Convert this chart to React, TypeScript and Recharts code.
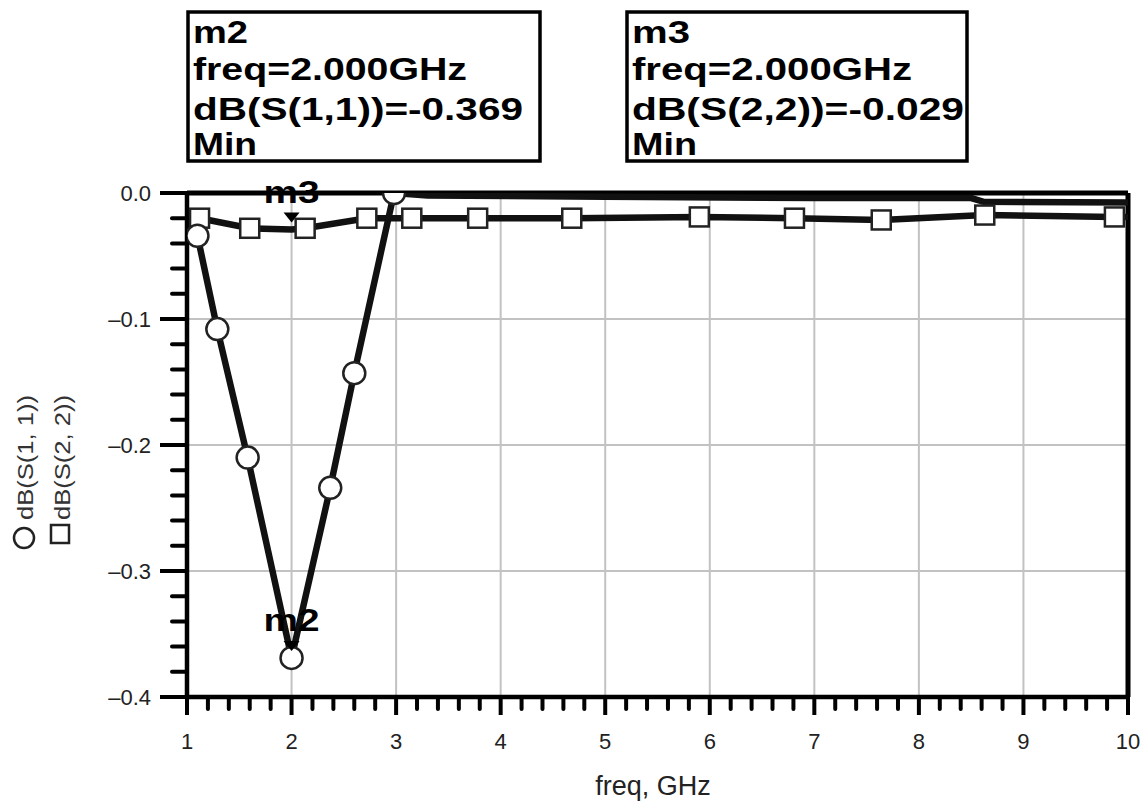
import React from 'react';
import { ComposedChart, Line, XAxis, YAxis, ReferenceLine, ReferenceDot } from 'recharts';

// ---- data ----
const s11Freq = [1.1, 1.29, 1.58, 2.0, 2.37, 2.6, 2.98, 3.3, 5.0, 7.0, 8.5, 8.62, 10.0];
const s11Db = [-0.034, -0.108, -0.21, -0.369, -0.234, -0.143, 0.0, -0.002, -0.003, -0.004, -0.004, -0.007, -0.0075];
const s11MarkFreq = [1.1, 1.29, 1.58, 2.0, 2.37, 2.6, 2.98];
const s11MarkDb = [-0.034, -0.108, -0.21, -0.369, -0.234, -0.143, 0.0];

const s22Freq = [1.12, 1.6, 2.0, 2.13, 2.72, 3.15, 3.78, 4.68, 5.9, 6.81, 7.64, 8.63, 9.87, 10.0];
const s22Db = [-0.02, -0.028, -0.029, -0.028, -0.02, -0.02, -0.02, -0.02, -0.019, -0.02, -0.0214, -0.0175, -0.019, -0.019];
const s22MarkFreq = [1.12, 1.6, 2.13, 2.72, 3.15, 3.78, 4.68, 5.9, 6.81, 7.64, 8.63, 9.87];
const s22MarkDb = [-0.02, -0.028, -0.028, -0.02, -0.02, -0.02, -0.02, -0.019, -0.02, -0.0214, -0.0175, -0.019];

const xGridTicks = [2, 3, 4, 5, 6, 7, 8, 9];
const yMajorTicks = [0, -0.1, -0.2, -0.3, -0.4];
const yMajorLabels = ['0.0', '\u20130.1', '\u20130.2', '\u20130.3', '\u20130.4'];
const yGridTicks = [-0.1, -0.2, -0.3];

const markers = [
  { name: 'm2', freq: 2.0, value: -0.369 },
  { name: 'm3', freq: 2.0, value: -0.029 },
];
const boxM2Lines = ['m2', 'freq=2.000GHz', 'dB(S(1,1))=-0.369', 'Min'];
const boxM3Lines = ['m3', 'freq=2.000GHz', 'dB(S(2,2))=-0.029', 'Min'];
const legendLabels = ['dB(S(1, 1))', 'dB(S(2, 2))'];
const xAxisTitle = 'freq, GHz';

// minor tick positions
const xTicks: number[] = [];
for (let i = 0; i <= 45; i++) xTicks.push(Math.round((1 + i * 0.2) * 10) / 10);
const yTicks: number[] = [];
for (let i = 0; i <= 20; i++) yTicks.push(Math.round((-0.4 + i * 0.02) * 100) / 100);

const zip = (f: number[], v: number[]) => f.map((x, i) => ({ f: x, v: v[i] }));
const s11Data = zip(s11Freq, s11Db);
const s11Marks = zip(s11MarkFreq, s11MarkDb);
const s22Data = zip(s22Freq, s22Db);
const s22Marks = zip(s22MarkFreq, s22MarkDb);

const FONT = 'Liberation Sans, Arial, Helvetica, sans-serif';

const isMajor = (v: number, step: number) => Math.abs(v / step - Math.round(v / step)) < 1e-6;

const XTick = (props: any) => {
  const { x, y, payload } = props;
  const v = payload.value;
  const major = isMajor(v, 1);
  return (
    <g>
      <line x1={x} x2={x} y1={y} y2={y + (major ? 18 : 12)} stroke="#000" strokeWidth={4}
        strokeLinecap={major ? 'butt' : 'round'} />
      {major && (
        <text x={x} y={y + 52} textAnchor="middle" fontSize={22} fill="#222" fontFamily={FONT}>
          {v}
        </text>
      )}
    </g>
  );
};

const YTick = (props: any) => {
  const { x, y, payload } = props;
  const v = payload.value;
  const major = isMajor(v, 0.1);
  const idx = yMajorTicks.findIndex((t) => Math.abs(t - v) < 1e-6);
  return (
    <g>
      <line x1={x - (major ? 27 : 15)} x2={x} y1={y} y2={y} stroke="#000" strokeWidth={4}
        strokeLinecap={major ? 'butt' : 'round'} />
      {major && idx >= 0 && (
        <text x={x - 36} y={y + 8} textAnchor="end" fontSize={22} fill="#222" fontFamily={FONT}>
          {yMajorLabels[idx]}
        </text>
      )}
    </g>
  );
};

const CircleDot = (props: any) => {
  const { cx, cy, index } = props;
  if (cx == null || cy == null) return <g key={`c${index}`} />;
  return <circle key={`c${index}`} cx={cx} cy={cy} r={11} fill="#fff" stroke="#222" strokeWidth={2.5} />;
};

const SquareDot = (props: any) => {
  const { cx, cy, index } = props;
  if (cx == null || cy == null) return <g key={`s${index}`} />;
  return <rect key={`s${index}`} x={cx - 9.5} y={cy - 9.5} width={19} height={19} fill="#fff" stroke="#222" strokeWidth={2.5} />;
};

const markerShape = (label: string) => (props: any) => {
  const { cx, cy } = props;
  return (
    <g>
      <path d={`M${cx - 8},${cy - 17} L${cx + 8},${cy - 17} L${cx},${cy - 7} Z`} fill="#000" />
      <text x={cx} y={cy - 27} textAnchor="middle" fontSize={31} fontWeight="bold" fill="#000"
        fontFamily={FONT} textLength={56} lengthAdjust="spacingAndGlyphs">
        {label}
      </text>
    </g>
  );
};

const boxM2Widths = [55, 274, 330, 64];
const boxM3Widths = [58, 280, 332, 65];
const lineBaselines = [35, 72, 112, 147];

const MarkerBox = ({ x, y, w, h, lines, widths }: any) => (
  <g>
    <rect x={x} y={y} width={w} height={h} fill="#fff" stroke="#000" strokeWidth={3.5} />
    {lines.map((t: string, i: number) => (
      <text key={i} x={x + 5} y={lineBaselines[i]} fontSize={32} fontWeight="bold" fill="#000"
        fontFamily={FONT} textLength={widths[i]} lengthAdjust="spacingAndGlyphs">
        {t}
      </text>
    ))}
  </g>
);

export default function App() {
  const W = 1135;
  const H = 798;
  return (
    <div style={{ position: 'relative', width: 1143, height: 806, background: '#fff' }}>
      <style>{'html{overflow:hidden;} body{margin:0;overflow:visible;}'}</style>
      <div style={{ position: 'absolute', left: 8, top: 8, width: W, height: H }}>
        <ComposedChart width={W} height={H} margin={{ top: 185, right: 15, bottom: 69, left: 119 }}
          style={{ overflow: 'visible' }}>
          <XAxis dataKey="f" type="number" domain={[1, 10]} ticks={xTicks} interval={0}
            allowDataOverflow tick={<XTick />} tickLine={false} tickSize={0} tickMargin={0} height={40}
            axisLine={{ stroke: '#000', strokeWidth: 4.5 }} />
          <YAxis type="number" domain={[-0.4, 0]} ticks={yTicks} interval={0} allowDataOverflow
            tick={<YTick />} tickLine={false} tickSize={0} tickMargin={0} width={60}
            axisLine={{ stroke: '#000', strokeWidth: 4.5 }} />
          {xGridTicks.map((v) => (
            <ReferenceLine key={`gx${v}`} x={v} stroke="#c2c2c2" strokeWidth={2} />
          ))}
          {yGridTicks.map((v) => (
            <ReferenceLine key={`gy${v}`} y={v} stroke="#c2c2c2" strokeWidth={2} />
          ))}
          <ReferenceLine y={0} stroke="#000" strokeWidth={5} />
          <ReferenceLine x={10} stroke="#000" strokeWidth={5} />
          <Line data={s22Data} dataKey="v" type="linear" stroke="#111" strokeWidth={6.5} dot={false}
            activeDot={false} isAnimationActive={false} />
          <Line data={s11Data} dataKey="v" type="linear" stroke="#111" strokeWidth={6.5} dot={false}
            activeDot={false} isAnimationActive={false} />
          <Line data={s22Marks} dataKey="v" type="linear" stroke="none" dot={SquareDot}
            activeDot={false} isAnimationActive={false} />
          <Line data={s11Marks} dataKey="v" type="linear" stroke="none" dot={CircleDot}
            activeDot={false} isAnimationActive={false} />
          {markers.map((m) => (
            <ReferenceDot key={m.name} x={m.freq} y={m.value} ifOverflow="visible" shape={markerShape(m.name)} />
          ))}
        </ComposedChart>
        <svg width={W} height={H} style={{ position: 'absolute', left: 0, top: 0, pointerEvents: 'none', overflow: 'visible' }}>
          <MarkerBox x={180} y={4} w={352} h={149} lines={boxM2Lines} widths={boxM2Widths} />
          <MarkerBox x={619} y={4} w={340} h={149} lines={boxM3Lines} widths={boxM3Widths} />
          <circle cx={16} cy={530} r={10} fill="#fff" stroke="#222" strokeWidth={2.5} />
          <rect x={43} y={517} width={18} height={18} fill="#fff" stroke="#222" strokeWidth={2.5} />
          <text transform="translate(17,512) rotate(-90)" fontSize={22} fill="#333" fontFamily={FONT}
            dominantBaseline="central" textLength={125} lengthAdjust="spacingAndGlyphs">
            {legendLabels[0]}
          </text>
          <text transform="translate(54,512) rotate(-90)" fontSize={22} fill="#333" fontFamily={FONT}
            dominantBaseline="central" textLength={125} lengthAdjust="spacingAndGlyphs">
            {legendLabels[1]}
          </text>
          <text x={645} y={787} textAnchor="middle" fontSize={27} fill="#222" fontFamily={FONT}>
            {xAxisTitle}
          </text>
        </svg>
      </div>
    </div>
  );
}
